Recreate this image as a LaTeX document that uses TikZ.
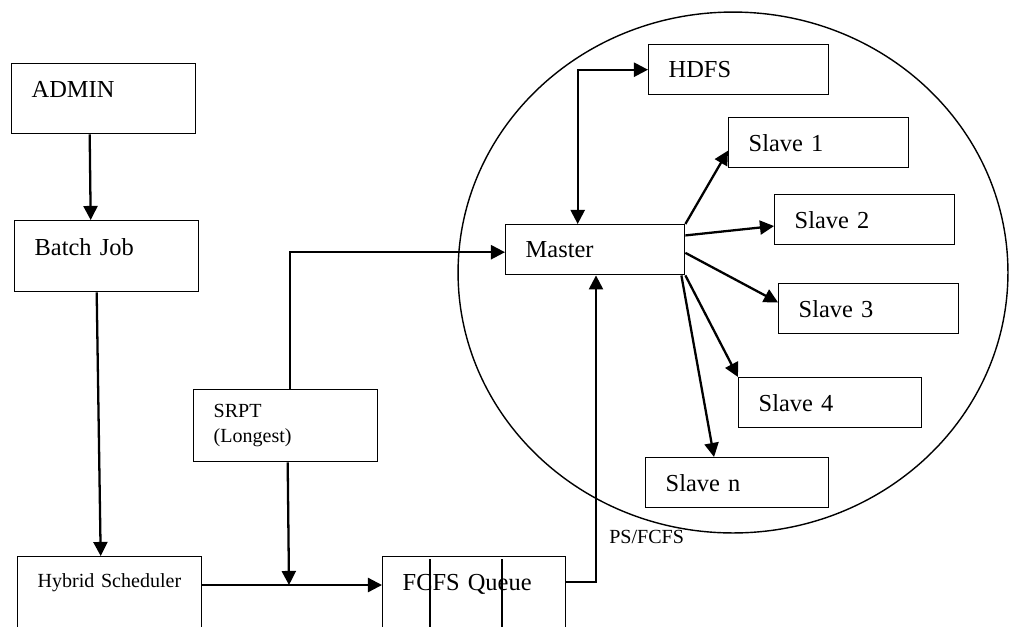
\documentclass[tikz,border=0pt]{standalone}
\usepackage{fontspec}
\setmainfont{Liberation Serif}
\usetikzlibrary{arrows.meta}
\newcommand\bigfont{\fontsize{13.9}{16}\selectfont}
\newcommand\smallfont{\fontsize{11.4}{14.2}\selectfont}
\begin{document}
\begin{tikzpicture}[
        x=0.02cm, y=-0.02cm,
        box/.style={draw, line width=0.8pt, anchor=north west, align=left,
                    inner xsep=0.4cm, inner ysep=0pt, font=\bigfont},
        slavebox/.style={box, text width=2.8cm, minimum height=1cm},
        arr/.style={-{Triangle[length=8pt, width=8pt]}, line width=1.3pt},
        dblarr/.style={{Triangle[length=8pt, width=8pt]}-{Triangle[length=8pt, width=8pt]}, line width=1.3pt},
      ]
        \useasboundingbox (0,0) rectangle (1013,626);
        \clip (0,0) rectangle (1013,626);

        % left column
        \node[box, text width=2.88cm, text height=0.68cm, text depth=0.72cm] (admin) at (11,63) {ADMIN};
        \node[box, text width=2.88cm, text height=0.7cm, text depth=0.72cm] (batch) at (14,220) {Batch Job};
        \node[box, font=\smallfont, text width=2.88cm, text height=0.62cm, text depth=2cm] (hybrid) at (17,556)
              {Hybrid Scheduler};
        \node[box, font=\smallfont, text width=2.88cm, minimum height=1.44cm] (srpt) at (193,389)
              {SRPT\\(Longest)};
        \node[box, text width=2.86cm, text height=0.68cm, text depth=2cm] (fcfs) at (382,556) {FCFS Queue};
        \draw[line width=0.7pt] ([xshift=0.96cm, yshift=-0.06cm]fcfs.north west) -- ([xshift=0.96cm]fcfs.south west);
        \draw[line width=0.7pt] ([xshift=2.4cm, yshift=-0.06cm]fcfs.north west) -- ([xshift=2.4cm]fcfs.south west);

        % cluster
        \draw[line width=0.8pt] (733,272.5) ellipse [x radius=5.5cm, y radius=5.21cm];
        \node[box, text width=2.78cm, minimum height=1cm] (master) at (505,224) {Master};
        \node[slavebox] (hdfs) at (648,44)  {HDFS};
        \node[slavebox] (s1)   at (728,117) {Slave 1};
        \node[slavebox] (s2)   at (774,194) {Slave 2};
        \node[slavebox] (s3)   at (778,283) {Slave 3};
        \node[slavebox, text width=2.86cm] (s4) at (738,377) {Slave 4};
        \node[slavebox, text width=2.86cm] (sn) at (645,457) {Slave n};

        \coordinate (join) at (289,585);
        \coordinate (psbend) at (596,582);

        \draw[arr] ([xshift=-0.28cm]admin.south) -- ([xshift=-0.32cm]batch.north);
        \draw[arr] ([xshift=-0.2cm]batch.south) -- ([xshift=-0.18cm]hybrid.north);
        \draw[arr] (hybrid.east |- join) -- (fcfs.west |- join);
        \draw[arr] ([xshift=0.04cm]srpt.south) -- (join);
        \draw[arr] ([xshift=0.08cm]srpt.north) |- ([yshift=-0.05cm]master.west);
        \draw[dblarr] (hdfs.west) -| ([xshift=-0.35cm]master.north);

        \draw[arr] (master.north east) -- (s1.185);
        \draw[arr] (master.9) -- (s2.184);
        \draw[arr] (master.-2) -- (s3.176);
        \draw[arr] (master.south east) -- (s4.north west);
        \draw[arr] ([xshift=-0.08cm]master.south east) -- (sn.132);

        \draw[arr] (fcfs.east |- psbend) -- (psbend) -- (psbend |- master.south);
        \node[font=\smallfont, anchor=west, inner sep=0pt] (pslbl) at (609,537) {PS/FCFS};
      \end{tikzpicture}
\end{document}
